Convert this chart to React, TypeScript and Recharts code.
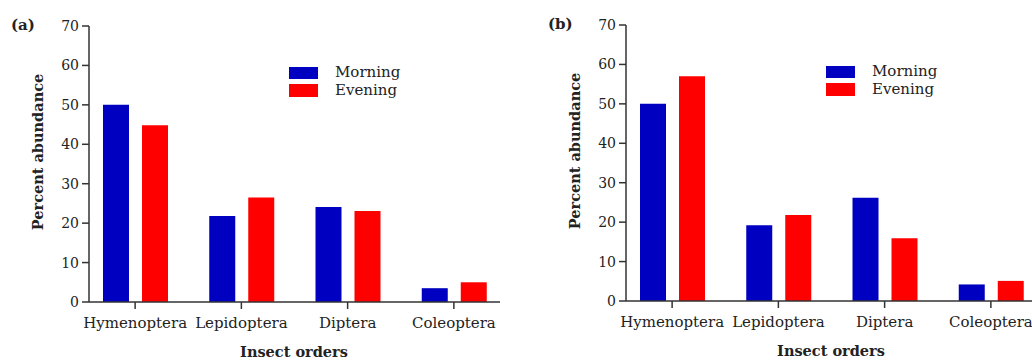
import { BarChart, Bar, XAxis, YAxis } from 'recharts'

const ORDERS = ['Hymenoptera', 'Lepidoptera', 'Diptera', 'Coleoptera']
const MORNING_A = [50, 21.8, 24.1, 3.5]
const EVENING_A = [44.8, 26.5, 23.1, 5.0]
const MORNING_B = [50, 19.2, 26.2, 4.2]
const EVENING_B = [57, 21.8, 15.9, 5.1]
const Y_TICKS = [0, 10, 20, 30, 40, 50, 60, 70]

const BLUE = '#0000c0'
const RED = '#ff0000'
const INK = '#222'
const AXIS = '#333'
const SERIF = '"DejaVu Serif", serif'

const SERIES = [
  { key: 'morning', label: 'Morning', color: BLUE },
  { key: 'evening', label: 'Evening', color: RED },
]

interface PanelProps {
  letter: string
  morning: number[]
  evening: number[]
  left: number
  top: number
}

function Panel({ letter, morning, evening, left, top }: PanelProps) {
  const rows = ORDERS.map((name, i) => ({ name, morning: morning[i], evening: evening[i] }))
  const tickStyle = { fontFamily: SERIF, fill: INK }
  return (
    <div style={{ position: 'absolute', left, top, width: 516, height: 363 }}>
      <BarChart
        width={516}
        height={363}
        data={rows}
        margin={{ top: 26, right: 16, bottom: 31, left: 29 }}
        barSize={26}
        barGap={13}
      >
        <XAxis
          dataKey="name"
          height={30}
          padding={{ left: -7, right: -7 }}
          tick={{ ...tickStyle, fontSize: 15 }}
          tickSize={7}
          tickMargin={8}
          stroke={AXIS}
          strokeWidth={1.5}
          interval={0}
        />
        <YAxis
          width={60}
          domain={[0, 70]}
          ticks={Y_TICKS}
          tick={{ ...tickStyle, fontSize: 14 }}
          tickSize={7}
          tickMargin={3}
          stroke={AXIS}
          strokeWidth={1.5}
        />
        {SERIES.map((s) => (
          <Bar key={s.key} dataKey={s.key} name={s.label} fill={s.color} isAnimationActive={false} />
        ))}
      </BarChart>
      <div style={{ position: 'absolute', left: 289, top: 64, fontFamily: SERIF, fontSize: 15, color: INK }}>
        {SERIES.map((s) => (
          <div key={s.key} style={{ display: 'flex', alignItems: 'center', height: 17.6 }}>
            <span style={{ display: 'inline-block', width: 29, height: 12.5, background: s.color, marginRight: 17 }} />
            <span style={{ lineHeight: '17px' }}>{s.label}</span>
          </div>
        ))}
      </div>
      <div
        style={{
          position: 'absolute', left: 11, top: 16, fontFamily: SERIF, fontWeight: 'bold',
          fontSize: 15, color: INK,
        }}
      >
        ({letter})
      </div>
      <div
        style={{
          position: 'absolute', left: 37, top: 152, transform: 'translate(-50%, -50%) rotate(-90deg)',
          whiteSpace: 'nowrap', fontFamily: SERIF, fontWeight: 'bold', fontSize: 14.5, color: INK,
        }}
      >
        Percent abundance
      </div>
      <div
        style={{
          position: 'absolute', left: 294, top: 343, transform: 'translateX(-50%)',
          whiteSpace: 'nowrap', fontFamily: SERIF, fontWeight: 'bold', fontSize: 14.5, color: INK,
        }}
      >
        Insect orders
      </div>
    </div>
  )
}

export default function App() {
  return (
    <div
      style={{
        position: 'absolute', left: 0, top: 0, width: 1032, height: 363,
        overflow: 'hidden', background: '#fff',
      }}
    >
      <Panel letter="a" morning={MORNING_A} evening={EVENING_A} left={0} top={0} />
      <Panel letter="b" morning={MORNING_B} evening={EVENING_B} left={537} top={-1} />
    </div>
  )
}
